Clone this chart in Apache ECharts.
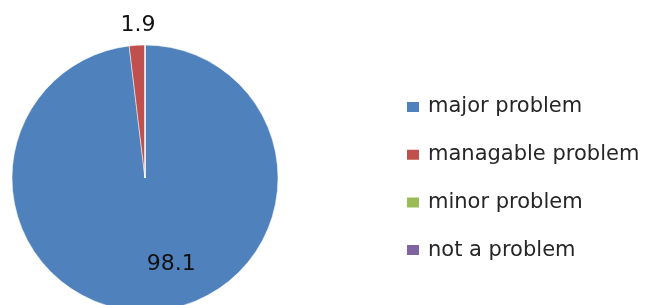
<!DOCTYPE html>
<html>
<head>
<meta charset="utf-8">
<script src="https://cdn.jsdelivr.net/npm/echarts@6/dist/echarts.min.js"></script>
<style>
  html, body { margin: 0; padding: 0; background: #fff; }
  #chart { width: 645px; height: 305px; }
</style>
</head>
<body>
<div id="chart"></div>
<script>
// chart data
var categories = ['major problem', 'managable problem', 'minor problem', 'not a problem'];
var values = [98.1, 1.9, 0, 0];
var colors = ['#4F81BD', '#C0504D', '#9BBB59', '#8064A2'];

var pieData = categories.map(function (name, i) {
  var item = { name: name, value: values[i], itemStyle: { color: colors[i] } };
  if (values[i] === 0) {
    item.label = { show: false };
  } else if (i === 0) {
    item.label = { position: 'inside' };
  } else {
    item.label = { position: 'outside' };
  }
  return item;
});

var chart = echarts.init(document.getElementById('chart'));
var option = {
  animation: false,
  textStyle: { fontFamily: 'DejaVu Sans' },
  legend: {
    orient: 'vertical',
    left: 400,
    top: 90,
    itemWidth: 14,
    itemHeight: 12,
    itemGap: 23.7,
    icon: 'rect',
    data: categories,
    textStyle: { fontSize: 21, color: '#262626', lineHeight: 24, padding: [0, 0, 0, 3], fontFamily: 'DejaVu Sans' }
  },
  series: [
    {
      type: 'pie',
      center: [145, 178],
      radius: 133,
      startAngle: 90,
      clockwise: true,
      avoidLabelOverlap: false,
      data: pieData,
      itemStyle: { borderColor: '#fff', borderWidth: 0.5 },
      label: {
        show: true,
        formatter: '{c}',
        fontSize: 22,
        color: '#111',
        fontFamily: 'DejaVu Sans'
      },
      labelLine: { show: false, length: 10, length2: 0 },
      labelLayout: function (params) {
        if (params.dataIndex === 0) {
          return { dx: 22, dy: 17 };
        }
        return { dx: 24, dy: -10 };
      }
    }
  ]
};
chart.setOption(option);
</script>
</body>
</html>
